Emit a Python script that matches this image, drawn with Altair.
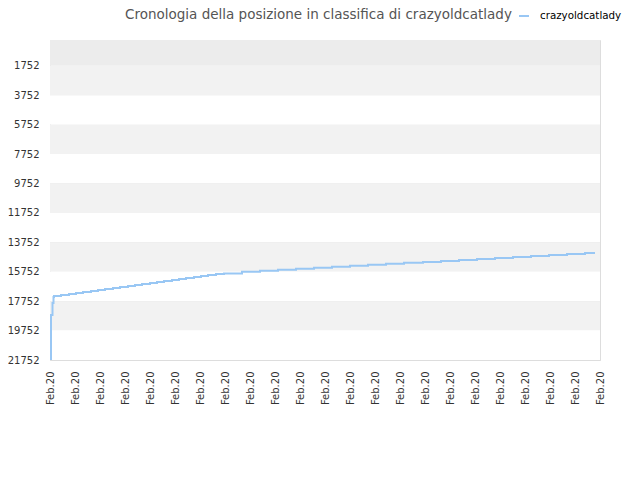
import altair as alt
import pandas as pd

# y-axis tick values (rank positions)
y_ticks = [1752, 3752, 5752, 7752, 9752, 11752, 13752, 15752, 17752, 19752, 21752]
# x ticks (23 labels all reading "Feb.20")
x_ticks = list(range(0, 23))
x_label = "Feb.20"
series_name = "crazyoldcatlady"

# line data: position (in tick units) and rank
t_vals = [0.04, 0.04, 0.10, 0.14, 0.16, 0.44, 0.76, 1.04, 1.32, 1.64, 1.92, 2.20, 2.52, 2.80,
          3.12, 3.40, 3.68, 4.00, 4.28, 4.56, 4.88, 5.16, 5.44, 5.76, 6.04, 6.32, 6.64, 6.96,
          7.68, 8.40, 9.12, 9.84, 10.56, 11.28, 12.00, 12.72, 13.44, 14.16, 14.92, 15.64,
          16.36, 17.08, 17.80, 18.52, 19.24, 19.96, 20.68, 21.40, 21.80]
rank_vals = [21752, 18691, 17874, 17466, 17398, 17330, 17262, 17194, 17126, 17058, 16990,
             16922, 16854, 16786, 16718, 16650, 16582, 16514, 16446, 16378, 16310, 16242,
             16174, 16106, 16038, 15970, 15902, 15868, 15745, 15677, 15609, 15541, 15473,
             15405, 15337, 15269, 15201, 15146, 15085, 15017, 14949, 14881, 14813, 14745,
             14677, 14609, 14541, 14473, 14473]

line_df = pd.DataFrame({"t": t_vals, "rank": rank_vals, "series": series_name})

edges = [0] + y_ticks
band_colors = ["#ececec"] + ["#f2f2f2" if i % 2 == 0 else "#ffffff" for i in range(len(y_ticks) - 1)]
band_df = pd.DataFrame({"y0": edges[:-1], "y1": edges[1:], "c": band_colors})

W, H = 550, 320
yscale = alt.Scale(domain=[0, 21752], reverse=True, nice=False, zero=False)
xscale = alt.Scale(domain=[0, 22], nice=False, zero=False)

y_axis = alt.Axis(values=y_ticks, format="d", grid=True, gridColor="#dddddd",
                  ticks=False, domain=False, title=None, labelFontSize=10,
                  labelColor="#333333", labelFont="DejaVu Sans", labelPadding=11)

bands = alt.Chart(band_df).mark_rect().encode(
    x=alt.value(0), x2=alt.value(W),
    y=alt.Y("y0:Q", scale=yscale, axis=y_axis),
    y2="y1:Q",
    fill=alt.Fill("c:N", scale=None, legend=None),
)

line = alt.Chart(line_df).mark_line(interpolate="step-after", strokeWidth=2).encode(
    x=alt.X("t:Q", scale=xscale,
            axis=alt.Axis(values=x_ticks, labelExpr=f"'{x_label}'", labelAngle=270,
                          labelAlign="right", labelBaseline="middle", grid=False, ticks=False,
                          domain=False, title=None, labelFontSize=10, labelColor="#333333",
                          labelFont="DejaVu Sans", labelPadding=11, labelOverlap=False)),
    y=alt.Y("rank:Q", scale=yscale, axis=y_axis),
    color=alt.Color("series:N", scale=alt.Scale(range=["#99c7f4"]),
                    legend=alt.Legend(title=None, orient="none", legendX=468, legendY=-30,
                                      symbolType="stroke", symbolStrokeWidth=2, symbolSize=100,
                                      labelOffset=10,
                                      labelFont="DejaVu Sans", labelFontSize=10.3,
                                      labelColor="#000000")),
)

chart = alt.layer(bands, line).properties(
    width=W, height=H,
    title=alt.TitleParams("Cronologia della posizione in classifica di crazyoldcatlady",
                          anchor="start", frame="group", dx=75, dy=18, offset=7, fontSize=13.5,
                          fontWeight="normal", font="DejaVu Sans", color="#555555"),
    autosize=alt.AutoSizeParams(type="none"),
    padding={"left": 42, "top": 32, "right": 32, "bottom": 104},
).configure_view(stroke="#dddddd", strokeWidth=1).configure(background="#ffffff")

chart.save("out.html", embed_options={"renderer": "svg", "actions": False})
